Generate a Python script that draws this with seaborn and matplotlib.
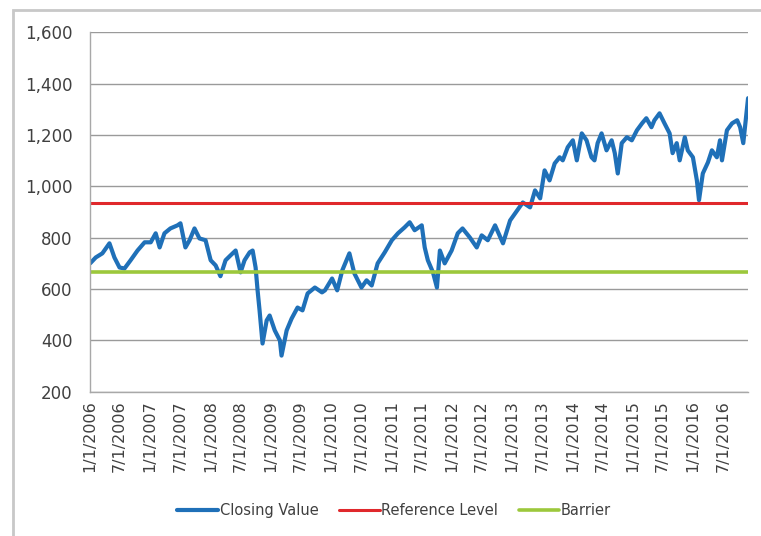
import pandas as pd
import numpy as np
import seaborn as sns
import matplotlib.pyplot as plt
from matplotlib.patches import Rectangle
from matplotlib.ticker import FuncFormatter

# Closing values
dates = [
    "2006-01-03", "2006-02-06", "2006-03-18", "2006-04-30", "2006-05-30", "2006-06-30",
    "2006-07-30", "2006-09-05", "2006-10-17", "2006-11-29", "2007-01-05", "2007-02-04",
    "2007-02-28", "2007-03-29", "2007-05-04", "2007-06-16", "2007-07-04", "2007-08-03",
    "2007-08-28", "2007-09-27", "2007-10-27", "2007-12-03", "2008-01-03", "2008-02-02",
    "2008-03-02", "2008-04-02", "2008-05-02", "2008-06-02", "2008-07-02", "2008-07-26",
    "2008-08-26", "2008-09-13", "2008-10-01", "2008-10-13", "2008-10-25", "2008-11-12",
    "2008-12-07", "2008-12-25", "2009-01-25", "2009-02-25", "2009-03-07", "2009-04-07",
    "2009-05-07", "2009-06-12", "2009-07-12", "2009-08-12", "2009-09-25", "2009-11-07",
    "2009-11-25", "2010-01-07", "2010-02-07", "2010-03-10", "2010-04-22", "2010-05-22",
    "2010-07-04", "2010-08-04", "2010-09-04", "2010-10-10", "2010-11-22", "2011-01-04",
    "2011-02-10", "2011-03-22", "2011-04-22", "2011-05-22", "2011-07-04", "2011-07-22",
    "2011-08-10", "2011-09-10", "2011-10-04", "2011-10-22", "2011-11-20", "2012-01-01",
    "2012-02-07", "2012-03-07", "2012-04-20", "2012-06-01", "2012-07-01", "2012-08-07",
    "2012-09-20", "2012-11-07", "2012-12-20", "2013-02-01", "2013-03-07", "2013-04-20",
    "2013-05-20", "2013-06-20", "2013-07-17", "2013-08-16", "2013-09-16", "2013-10-16",
    "2013-11-04", "2013-12-04", "2014-01-04", "2014-01-28", "2014-02-27", "2014-03-28",
    "2014-04-27", "2014-05-15", "2014-06-03", "2014-06-27", "2014-07-27", "2014-08-27",
    "2014-09-15", "2014-10-03", "2014-10-27", "2014-11-27", "2014-12-27", "2015-01-27",
    "2015-02-27", "2015-03-25", "2015-04-25", "2015-05-13", "2015-06-13", "2015-07-13",
    "2015-08-13", "2015-08-31", "2015-09-25", "2015-10-13", "2015-11-13", "2015-12-01",
    "2016-01-01", "2016-01-25", "2016-02-07", "2016-03-01", "2016-04-01", "2016-04-25",
    "2016-05-25", "2016-06-13", "2016-06-25", "2016-07-25", "2016-08-25", "2016-09-25",
    "2016-10-13", "2016-11-01", "2016-11-22", "2016-11-30",
]
closing = [
    700, 723, 739, 778, 723, 684,
    680, 712, 750, 782, 782, 817,
    762, 817, 836, 848, 856, 762,
    790, 836, 797, 790, 712, 692,
    650, 712, 731, 750, 665, 712,
    743, 750, 684, 595, 517, 388,
    478, 497, 439, 400, 341, 439,
    485, 528, 517, 583, 606, 587,
    595, 641, 595, 673, 739, 661,
    606, 634, 614, 700, 743, 790,
    817, 840, 860, 829, 848, 762,
    712, 665, 606, 750, 700, 750,
    817, 836, 801, 762, 809, 790,
    848, 778, 867, 906, 937, 918,
    984, 953, 1062, 1023, 1089, 1113,
    1101, 1152, 1179, 1101, 1206, 1179,
    1113, 1101, 1168, 1206, 1140, 1179,
    1129, 1050, 1168, 1191, 1179, 1218,
    1245, 1265, 1230, 1257, 1284, 1245,
    1206, 1129, 1168, 1101, 1191, 1140,
    1113, 1023, 946, 1050, 1093, 1140,
    1113, 1179, 1101, 1218, 1245, 1257,
    1230, 1168, 1296, 1343,
]
reference_level = 935
barrier = 668
y_ticks = [200, 400, 600, 800, 1000, 1200, 1400, 1600]
tick_dates = pd.date_range("2006-01-01", "2016-07-01", freq="6MS")
tick_labels = [f"{d.month}/{d.day}/{d.year}" for d in tick_dates]

df = pd.DataFrame({"Date": pd.to_datetime(dates), "Closing Value": closing})

sns.set_style("white")
plt.rcParams["font.family"] = ["DejaVu Sans"]

fig = plt.figure(figsize=(7.61, 5.36), dpi=100)
ax = fig.add_axes([0.118, 0.269, 0.865, 0.671])

sns.lineplot(data=df, x="Date", y="Closing Value", ax=ax, color="#1f70b8",
             linewidth=3.0, label="Closing Value")
ax.axhline(reference_level, color="#e0282c", linewidth=2.2, label="Reference Level")
ax.axhline(barrier, color="#9cc83c", linewidth=2.6, label="Barrier")

ax.set_ylim(200, 1600)
ax.set_xlim(pd.Timestamp("2006-01-01"), pd.Timestamp("2016-11-30"))
ax.set_yticks(y_ticks)
ax.yaxis.set_major_formatter(FuncFormatter(lambda v, p: f"{v:,.0f}"))
ax.set_xticks(tick_dates)
ax.set_xticklabels(tick_labels, rotation=90)
ax.set_xlabel("")
ax.set_ylabel("")

ax.grid(axis="y", color="#9a9a9a", linewidth=1.0)
ax.set_axisbelow(True)
for side in ["top", "right"]:
    ax.spines[side].set_visible(False)
for side in ["left", "bottom"]:
    ax.spines[side].set_color("#a8a8a8")
    ax.spines[side].set_linewidth(1.0)
ax.tick_params(axis="y", direction="out", length=5.5, color="#a8a8a8",
               labelsize=12, labelcolor="#404040", pad=7)
ax.tick_params(axis="x", direction="out", length=4, color="#a8a8a8",
               labelsize=11.5, labelcolor="#404040", pad=2)

handles, labels = ax.get_legend_handles_labels()
ax.get_legend().remove()
fig.legend(handles, labels, loc="center", bbox_to_anchor=(0.518, 0.048), ncol=3,
           frameon=False, fontsize=10.5, handlelength=2.8, handletextpad=0.1,
           columnspacing=1.4, labelcolor="#404040")

# light chart-area border like the spreadsheet export
fig.patches.append(Rectangle((13 / 761, -0.02), 1.0, 1 - 10 / 536 + 0.02,
                             transform=fig.transFigure, fill=False,
                             edgecolor="#c8c8c8", linewidth=2.0))

fig.savefig("out.png", dpi=100)
